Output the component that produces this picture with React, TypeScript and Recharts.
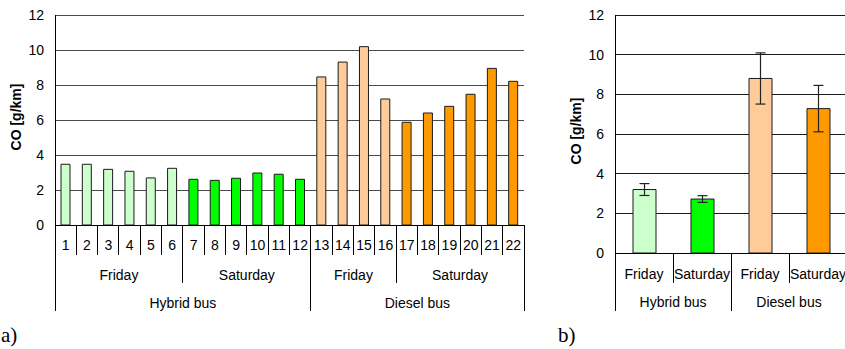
import { Bar, BarChart, CartesianGrid, Cell, ErrorBar, XAxis, YAxis } from 'recharts'

// a) single runs
const runIds = ['1', '2', '3', '4', '5', '6', '7', '8', '9', '10', '11', '12', '13', '14', '15', '16', '17', '18', '19', '20', '21', '22']
const runCo = [3.47, 3.47, 3.18, 3.07, 2.69, 3.24, 2.61, 2.55, 2.67, 2.97, 2.9, 2.61, 8.46, 9.31, 10.19, 7.2, 5.87, 6.4, 6.78, 7.47, 8.95, 8.21]
const runDay = ['Friday', 'Friday', 'Friday', 'Friday', 'Friday', 'Friday', 'Saturday', 'Saturday', 'Saturday', 'Saturday', 'Saturday', 'Saturday', 'Friday', 'Friday', 'Friday', 'Friday', 'Saturday', 'Saturday', 'Saturday', 'Saturday', 'Saturday', 'Saturday']
const runBus = ['Hybrid bus', 'Hybrid bus', 'Hybrid bus', 'Hybrid bus', 'Hybrid bus', 'Hybrid bus', 'Hybrid bus', 'Hybrid bus', 'Hybrid bus', 'Hybrid bus', 'Hybrid bus', 'Hybrid bus', 'Diesel bus', 'Diesel bus', 'Diesel bus', 'Diesel bus', 'Diesel bus', 'Diesel bus', 'Diesel bus', 'Diesel bus', 'Diesel bus', 'Diesel bus']

// b) means with error bars
const sumDay = ['Friday', 'Saturday', 'Friday', 'Saturday']
const sumBus = ['Hybrid bus', 'Hybrid bus', 'Diesel bus', 'Diesel bus']
const sumMean = [3.2, 2.72, 8.8, 7.28]
const sumErr = [0.3, 0.17, 1.29, 1.17]

const yTicks = [0, 2, 4, 6, 8, 10, 12]

const FONT = '"Liberation Sans", Arial, sans-serif'

function fillFor(bus: string, day: string) {
  if (bus === 'Hybrid bus') return day === 'Friday' ? '#ccffcc' : '#00ff00'
  return day === 'Friday' ? '#ffcc99' : '#ff9900'
}

type Row = { keys: string[]; labels: string[]; textY: number; lineY: number }

function spanOf(keys: string[], i: number) {
  let s = i
  while (s > 0 && keys[s - 1] === keys[i]) s--
  let e = i
  while (e < keys.length - 1 && keys[e + 1] === keys[i]) e++
  return { s, e }
}

function makeTick(rows: Row[], band: number) {
  const deepest = Math.max(...rows.map((r) => r.lineY))
  return (props: any) => {
    const { x, y } = props
    const i = props.index ?? props.payload?.index ?? 0
    const x0 = x - band / 2
    const x1 = x + band / 2
    let endY = 0
    const parts: any[] = []
    rows.forEach((r, ri) => {
      const { s, e } = spanOf(r.keys, i)
      if (e === i) endY = Math.max(endY, r.lineY)
      if (s === i) {
        const cx = x0 + ((e - s + 1) * band) / 2
        parts.push(
          <text key={'t' + ri} x={cx} y={y + r.textY} textAnchor="middle" fontSize={14} fontFamily={FONT} fill="#000">
            {r.labels[i]}
          </text>,
        )
      }
    })
    return (
      <g shapeRendering="crispEdges">
        {i === 0 && <line x1={x0} x2={x0} y1={y} y2={y + deepest} stroke="#000" />}
        <line x1={x1} x2={x1} y1={y} y2={y + endY} stroke="#000" />
        {parts}
      </g>
    )
  }
}

const runData = runIds.map((id, i) => ({ id, co: runCo[i] }))
const sumData = sumMean.map((m, i) => ({ id: sumBus[i] + sumDay[i], co: m, err: sumErr[i] }))

const runGroupKeys = runIds.map((_, i) => runBus[i] + runDay[i])
const sumGroupKeys = sumMean.map((_, i) => sumBus[i] + sumDay[i])

const leftTick = makeTick(
  [
    { keys: runIds, labels: runIds, textY: 25, lineY: 30 },
    { keys: runGroupKeys, labels: runDay, textY: 55, lineY: 58 },
    { keys: runBus, labels: runBus, textY: 83, lineY: 86 },
  ],
  469 / runIds.length,
)

const rightTick = makeTick(
  [
    { keys: sumGroupKeys, labels: sumDay, textY: 26, lineY: 30 },
    { keys: sumBus, labels: sumBus, textY: 54, lineY: 58 },
  ],
  232 / sumMean.length,
)

const yLabel = (dx: number) => ({
  value: 'CO [g/km]',
  angle: -90,
  position: 'center' as const,
  dx,
  dy: -3,
  style: { fontSize: 14, fontWeight: 700, fontFamily: FONT, fill: '#000' },
})

const axisLine = { stroke: '#000', shapeRendering: 'crispEdges' }

export default function App() {
  return (
    <div style={{ position: 'absolute', left: 0, top: 0, width: 845, height: 349, overflow: 'hidden', background: '#fff', fontFamily: '"Liberation Serif", serif' }}>
      <div style={{ position: 'absolute', left: 0, top: 0 }}>
        <BarChart width={530} height={320} data={runData} margin={{ top: 15, right: 6, left: 0, bottom: 5 }}>
          <CartesianGrid vertical={false} stroke="#4a4a4a" shapeRendering="crispEdges" />
          <XAxis dataKey="id" interval={0} tickLine={false} tickSize={0} tickMargin={0} height={90} axisLine={axisLine} tick={leftTick} />
          <YAxis domain={[0, 12]} ticks={yTicks} interval={0} width={55} tickLine={false} tickMargin={5} axisLine={axisLine} tick={{ fontSize: 14, fontFamily: FONT, fill: '#000' }} label={yLabel(-11)} />
          <YAxis yAxisId="r" orientation="right" domain={[0, 12]} width={0} tick={false} tickLine={false} axisLine={axisLine} />
          <Bar dataKey="co" barSize={9} stroke="#1a1a1a" isAnimationActive={false}>
            {runData.map((d, i) => (
              <Cell key={d.id} fill={fillFor(runBus[i], runDay[i])} />
            ))}
          </Bar>
        </BarChart>
      </div>
      <div style={{ position: 'absolute', left: 540, top: 0 }}>
        <BarChart width={307} height={320} data={sumData} margin={{ top: 15, right: 0, left: 0, bottom: 5 }}>
          <CartesianGrid vertical={false} stroke="#1a1a1a" shapeRendering="crispEdges" />
          <XAxis dataKey="id" interval={0} tickLine={false} tickSize={0} tickMargin={0} height={62} axisLine={axisLine} tick={rightTick} />
          <YAxis domain={[0, 12]} ticks={yTicks} interval={0} width={75} tickLine={false} tickMargin={5} axisLine={axisLine} tick={{ fontSize: 14, fontFamily: FONT, fill: '#000' }} label={yLabel(-1)} />
          <Bar dataKey="co" barSize={23} stroke="#1a1a1a" isAnimationActive={false}>
            {sumData.map((d, i) => (
              <Cell key={d.id} fill={fillFor(sumBus[i], sumDay[i])} />
            ))}
            <ErrorBar dataKey="err" width={5} stroke="#222" strokeWidth={1.2} direction="y" />
          </Bar>
        </BarChart>
      </div>
      <div style={{ position: 'absolute', left: 1, top: 324, fontSize: 21, lineHeight: '22px' }}>a)</div>
      <div style={{ position: 'absolute', left: 558, top: 324, fontSize: 21, lineHeight: '22px' }}>b)</div>
    </div>
  )
}
